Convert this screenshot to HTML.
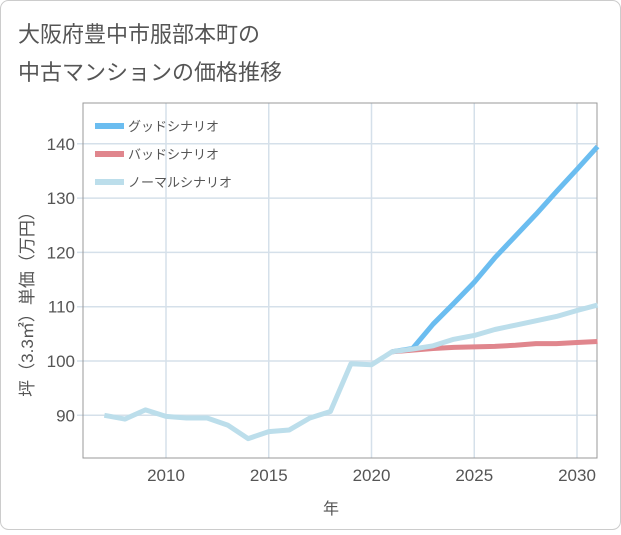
<!DOCTYPE html>
<html><head><meta charset="utf-8"><style>
body{margin:0;background:#fff;font-family:"Liberation Sans","Noto Sans CJK JP",sans-serif}
</style></head><body>
<svg width="621" height="530" xmlns="http://www.w3.org/2000/svg" font-family="Liberation Sans, Noto Sans CJK JP, sans-serif">
<rect x="0.5" y="0.5" width="620" height="529" rx="8" fill="#fff" stroke="#ccc"/>
<text x="18" y="42" font-size="22" fill="#555">大阪府豊中市服部本町の</text>
<text x="18" y="80" font-size="22" fill="#555">中古マンションの価格推移</text>
<g id="grid"></g>
<rect x="83" y="103" width="514" height="355" fill="none" stroke="#999"/>
<g id="marks"></g>
<g id="legend"></g>
<text x="331" y="514" font-size="16" fill="#555" text-anchor="middle">年</text>
<text transform="translate(33,300) rotate(-90)" font-size="17" fill="#555" text-anchor="middle">坪（3.3㎡）単価（万円）</text>
</svg>
<script>
const years=[2007,2008,2009,2010,2011,2012,2013,2014,2015,2016,2017,2018,2019,2020,2021,2022,2023,2024,2025,2026,2027,2028,2029,2030,2031];
const normal=[90,89.3,91,89.8,89.5,89.5,88.2,85.7,87,87.3,89.5,90.7,99.5,99.3,101.7,102.2,102.8,104,104.7,105.8,106.6,107.4,108.2,109.3,110.3];
const goodYears=[2021,2022,2023,2024,2025,2026,2027,2028,2029,2030,2031];
const good=[101.7,102.3,106.8,110.6,114.5,119,123,127,131.2,135.3,139.5];
const bad=[101.7,102.0,102.3,102.5,102.6,102.7,102.9,103.2,103.2,103.4,103.6];
const xTicks=[2010,2015,2020,2025,2030];
const yTicks=[90,100,110,120,130,140];
const NS="http://www.w3.org/2000/svg";
const X=y=>166+(y-2010)*20.55;
const Y=v=>361-(v-100)*5.43;
function mk(t,a,p){const e=document.createElementNS(NS,t);for(const k in a)e.setAttribute(k,a[k]);p.appendChild(e);return e;}
const g=document.getElementById('grid');
xTicks.forEach(t=>{
 const l=mk('line',{x1:X(t),x2:X(t),y1:103,y2:458,stroke:'#d5e0ea','stroke-width':1.5},g);
 
 
 const tx=mk('text',{x:X(t),y:481,'font-size':17,fill:'#555','text-anchor':'middle'},g);tx.textContent=t;
 
 
});
yTicks.forEach(t=>{
 const l=mk('line',{x1:77,x2:597,y1:Y(t),y2:Y(t),stroke:'#d5e0ea','stroke-width':1.5},g);
 
 
 const tx=mk('text',{x:75,y:Y(t)+6,'font-size':17,fill:'#555','text-anchor':'end'},g);tx.textContent=t;
 
 
});
const m=document.getElementById('marks');
function line(xs,vs,c,name){
 const p=mk('polyline',{points:xs.map((x,i)=>X(x)+','+Y(vs[i])).join(' '),fill:'none',stroke:c,'stroke-width':5,'stroke-linejoin':'round'},m);
 
 
}
line(goodYears,good,'#6bbdf0','good-scenario-line');
line(goodYears,bad,'#e0868d','bad-scenario-line');
line(years,normal,'#bcdeeb','normal-scenario-line');
const lg=document.getElementById('legend');
[['グッドシナリオ','#6bbdf0',126],['バッドシナリオ','#e0868d',154],['ノーマルシナリオ','#bcdeeb',182]].forEach(([n,c,y])=>{
 const r=mk('rect',{x:95,y:y-3,width:29,height:6,fill:c},lg);
 
 
 const t=mk('text',{x:128,y:y+5,'font-size':13,fill:'#555'},lg);t.textContent=n;
 
 
});
</script>
</body></html>
